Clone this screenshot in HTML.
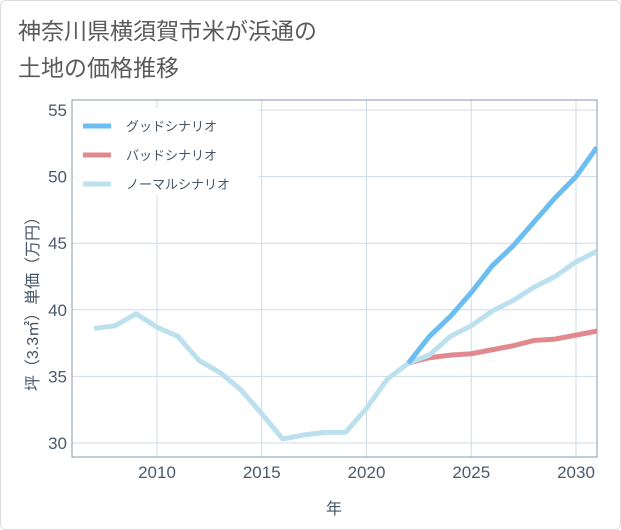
<!DOCTYPE html>
<html><head><meta charset="utf-8"><style>
body{margin:0;background:#fff;}
#wrap{position:relative;width:619px;height:528px;border:1px solid #ddd;border-radius:6px;overflow:hidden;background:#fff;font-family:"Liberation Sans","Noto Sans CJK JP",sans-serif;}
.title{position:absolute;left:17px;top:12px;font-size:23px;line-height:37px;color:#5a5a5a;}
</style></head><body>
<div id="wrap">
<div class="title">神奈川県横須賀市米が浜通の<br>土地の価格推移</div>
<svg id="chart" width="621" height="530" style="position:absolute;left:-1px;top:-1px"></svg>
</div>
<script>
const years=[2007,2008,2009,2010,2011,2012,2013,2014,2015,2016,2017,2018,2019,2020,2021,2022];
const histVals=[38.6,38.8,39.7,38.7,38.0,36.2,35.3,34.0,32.2,30.3,30.6,30.8,30.8,32.6,34.8,36.0];
const futYears=[2022,2023,2024,2025,2026,2027,2028,2029,2030,2031];
const goodVals=[36.0,38.0,39.5,41.3,43.3,44.8,46.6,48.4,50.0,52.2];
const badVals=[36.0,36.4,36.6,36.7,37.0,37.3,37.7,37.8,38.1,38.4];
const normVals=[36.0,36.6,38.0,38.8,39.9,40.7,41.7,42.5,43.6,44.4];
const xTicks=[2010,2015,2020,2025,2030];
const yTicks=[30,35,40,45,50,55];
const legendLabels=["グッドシナリオ","バッドシナリオ","ノーマルシナリオ"];
const L=72,R=597,T=100,B=457;
const X=v=>157+(v-2010)*(576-157)/20;
const Y=v=>443-(v-30)*(443-110)/25;
const svg=document.getElementById('chart');
const NS='http://www.w3.org/2000/svg';
function mk(t,a,p){const e=document.createElementNS(NS,t);for(const k in a)e.setAttribute(k,a[k]);(p||svg).appendChild(e);return e;}
const defs=mk('defs',{});const cp=mk('clipPath',{id:'c'},defs);mk('rect',{x:L,y:T,width:R-L,height:B-T},cp);
xTicks.forEach(t=>{const l=mk('line',{x1:X(t),x2:X(t),y1:T,y2:B,stroke:'#cfdbe6','stroke-width':1});


const tx=mk('text',{x:X(t),y:B+21,'text-anchor':'middle','font-size':17,fill:'#4a5a6e'});tx.textContent=t;

});
yTicks.forEach(t=>{const l=mk('line',{x1:L,x2:R,y1:Y(t),y2:Y(t),stroke:'#cfdbe6','stroke-width':1});


const tx=mk('text',{x:L-5,y:Y(t)+6,'text-anchor':'end','font-size':17,fill:'#4a5a6e'});tx.textContent=t;

});
const fr=mk('rect',{x:L,y:T,width:R-L,height:B-T,fill:'none',stroke:'#8899aa','stroke-width':1});


const g=mk('g',{'clip-path':'url(#c)'});
function line(xs,vs,col,name){const p=mk('polyline',{points:xs.map((x,i)=>X(x)+','+Y(vs[i])).join(' '),fill:'none',stroke:col,'stroke-width':5,'stroke-linejoin':'round'},g);

}
line(years,histVals,'#bde0ef','history-line');
line(futYears,badVals,'#e08a90','bad-scenario-line');
line(futYears,normVals,'#bde0ef','normal-scenario-line');
line(futYears,goodVals,'#6cbdf0','good-scenario-line');
const lg=mk('rect',{x:73,y:108,width:185,height:87,fill:'#fff'});


const cols=['#6cbdf0','#e08a90','#bde0ef'];
legendLabels.forEach((s,i)=>{const y=126+i*29;
const sw=mk('line',{x1:83,x2:111,y1:y,y2:y,stroke:cols[i],'stroke-width':5});


const t=mk('text',{x:126,y:y+5,'font-size':13,fill:'#445566'});t.textContent=s;

});
const xt=mk('text',{x:334,y:514,'text-anchor':'middle','font-size':16,fill:'#445566'});xt.textContent='年';


const yt=mk('text',{x:0,y:0,'text-anchor':'middle','font-size':16,fill:'#445566',transform:'translate(38,300) rotate(-90)'});yt.textContent='坪（3.3㎡）単価（万円）';


</script>
</body></html>
